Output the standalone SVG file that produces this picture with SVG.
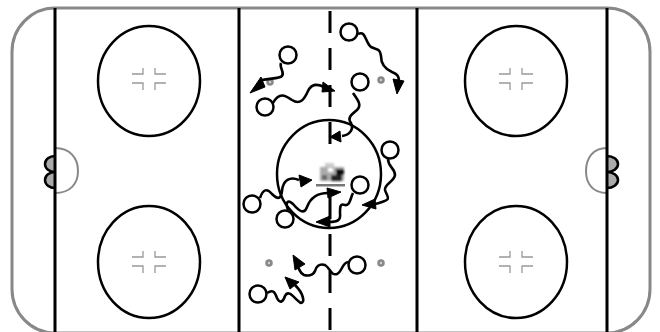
<svg xmlns="http://www.w3.org/2000/svg" width="660" height="332" viewBox="0 0 660 332">
<style>
.rink{fill:none;stroke:#888;stroke-width:3}
.crease{fill:none;stroke:#888;stroke-width:2}
.line{fill:none;stroke:#000;stroke-width:3}
.fo{fill:none;stroke:#000;stroke-width:2.5}
.tick{fill:none;stroke:#999;stroke-width:1.3}
.goal{fill:#aaa;stroke:#000;stroke-width:2.5}
.dot{fill:#ccc;stroke:#888;stroke-width:2.5}
.pl{fill:#fff;stroke:#000;stroke-width:2.5}
.sq{fill:none;stroke:#000;stroke-width:2.6}
.ah{fill:#000;stroke:#000;stroke-width:1;stroke-linejoin:miter}
</style>
<defs>
<g id="ticks" class="tick"><path d="M-17-7H-6V-13M17-7H6V-13M-17 2H-6V9M17 2H6V9"/></g>
<filter id="soft" x="-20%" y="-20%" width="140%" height="140%"><feGaussianBlur stdDeviation="1"/></filter>
</defs>
<rect width="660" height="332" fill="#fff"/>
<g id="rink">
<rect class="rink" x="12" y="8" width="638" height="325" rx="43" ry="44"/>
<path class="goal" d="M55 156A10 8 0 0 0 55 172A10 8 0 0 0 55 188"/>
<path class="goal" d="M607 156A11 8 0 0 1 607 172A11 8 0 0 1 607 188"/>
<path class="crease" d="M55 148C70 148 78 158 78 171C78 184 70 193 55 193"/>
<path class="crease" d="M607 148C593 148 586 158 586 171C586 184 593 193 607 193"/>
<path class="line" d="M55 8V332M239 8V332M417 8V332M607 8V332"/>
<path class="line" stroke-dasharray="22 15" d="M330 11V159M330 197V332"/>
<ellipse class="fo" cx="149" cy="81" rx="51" ry="55"/>
<ellipse class="fo" cx="149" cy="262" rx="51" ry="56"/>
<ellipse class="fo" cx="516" cy="81" rx="51" ry="55"/>
<ellipse class="fo" cx="516" cy="262" rx="51" ry="56"/>
<use href="#ticks" x="149" y="81"/>
<use href="#ticks" x="149" y="264"/>
<use href="#ticks" x="516" y="81"/>
<use href="#ticks" x="516" y="264"/>
<ellipse class="fo" cx="329" cy="174" rx="52" ry="54"/>
<circle class="dot" cx="270" cy="82" r="2.5"/>
<circle class="dot" cx="381" cy="80" r="2.5"/>
<circle class="dot" cx="269" cy="263" r="2.5"/>
<circle class="dot" cx="381" cy="263" r="2.5"/>
</g>
<g id="logo">
<g filter="url(#soft)">
<rect x="325" y="163" width="9" height="4" fill="#ccc"/>
<rect x="320" y="167" width="24" height="14" fill="#aaa"/>
<rect x="328" y="168" width="5" height="4" fill="#fff"/>
<rect x="336" y="169" width="8" height="6" fill="#111"/>
<rect x="331" y="175" width="11" height="6" fill="#222"/>
<rect x="322" y="175" width="5" height="5" fill="#666"/>
</g>
<rect x="316" y="184" width="29" height="2.5" fill="#777"/>
</g>
<g id="connectors">
<path class="sq" d="M281 63C279 68 285 72 282 76C279 79 270 78 262 80"/>
<path class="ah" d="M250 93L261 77L265 87Z"/>
<path class="sq" d="M273 103C279 92 285 95 292 100C300 105 304 100 308 91C312 83 318 84 324 87"/>
<path class="ah" d="M335 91L323 82L322 92Z"/>
<path class="sq" d="M358 34C366 30 365 42 371 47C377 50 380 48 381 56C381 64 385 69 392 72C397 74 399 76 399 81"/>
<path class="ah" d="M397 94L393 79L404 81Z"/>
<path class="sq" d="M353 93C358 100 362 105 357 110C351 115 347 118 351 123C354 129 350 135 342 136"/>
<path class="ah" d="M330 137L340 131L341 142Z"/>
<path class="sq" d="M388 159C388 167 395 168 395 175C394 182 384 184 385 190C387 197 392 199 382 202C377 204 374 204 370 205"/>
<path class="ah" d="M362 205L375 199L376 209Z"/>
<path class="sq" d="M353 193C350 199 350 206 345 205C340 203 340 207 340 213C341 220 338 222 329 222"/>
<path class="ah" d="M316 222L330 216L330 227Z"/>
<path class="sq" d="M260 198C263 189 267 188 272 194C278 200 281 199 282 191C283 180 290 176 299 180"/>
<path class="ah" d="M312 180L299 175L301 187Z"/>
<path class="sq" d="M288 210C285 202 288 199 293 204C299 211 304 215 307 207C310 199 316 193 328 193"/>
<path class="ah" d="M341 192L327 188L328 198Z"/>
<path class="sq" d="M348 262C342 263 342 272 337 274C331 276 330 268 325 265C319 263 316 267 315 271C313 276 307 276 304 275C300 273 300 271 298 267"/>
<path class="ah" d="M293 255L305 264L295 270Z"/>
<path class="sq" d="M267 293C273 289 275 292 277 298C280 304 283 302 285 296C289 288 295 300 301 303C305 303 304 294 295 285"/>
<path class="ah" d="M285 277L299 282L290 289Z"/>
</g>
<g id="p1"><circle class="pl" cx="288" cy="55" r="8.5"/></g>
<g id="p2"><circle class="pl" cx="349" cy="32" r="8.5"/></g>
<g id="p3"><circle class="pl" cx="360" cy="82" r="8.5"/></g>
<g id="p4"><circle class="pl" cx="265" cy="107" r="8.5"/></g>
<g id="p5"><circle class="pl" cx="390" cy="150" r="8.5"/></g>
<g id="p6"><circle class="pl" cx="360" cy="185" r="8.5"/></g>
<g id="p7"><circle class="pl" cx="252" cy="204" r="8.5"/></g>
<g id="p8"><circle class="pl" cx="285" cy="219" r="8.5"/></g>
<g id="p9"><circle class="pl" cx="357" cy="265" r="8.5"/></g>
<g id="p10"><circle class="pl" cx="258" cy="294" r="8.5"/></g>
</svg>
